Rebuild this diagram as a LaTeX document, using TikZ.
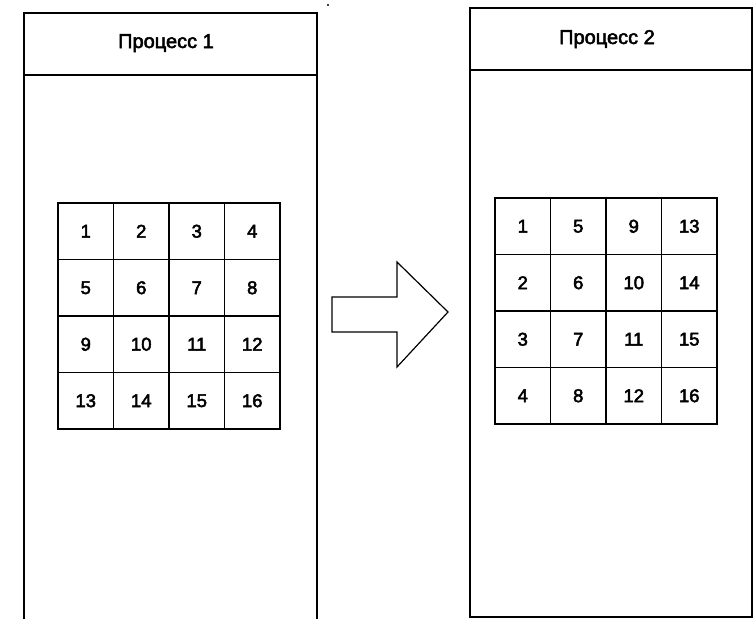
\documentclass[tikz,border=0pt]{standalone}
\usepackage{fontspec}
\setmainfont{Liberation Sans}
% glyphs filled and outlined, for a slightly heavier stroke
\newcommand\heavytext[1]{\special{pdf:literal direct q 2 Tr 0.5 w}#1\special{pdf:literal direct Q}}
\begin{document}
\begin{tikzpicture}[x=1pt,y=-1pt,
  frame/.style={line width=1.3pt,black},
  cell/.style={draw,line width=1.2pt,rectangle,inner sep=0pt,
    minimum width=55.5pt,minimum height=56.5pt,
    font=\fontsize{18.5}{22}\selectfont},
  title/.style={anchor=base,font=\fontsize{20}{24}\selectfont},
  bigarrow/.style={line width=1.2pt,line join=miter}]
\useasboundingbox (0,0) rectangle (754,619);

% first process: open-bottom frame with header
\draw[frame] (24,619) -- (24,13) -- (317,13) -- (317,619);
\draw[frame] (24,75) -- (317,75);
\node[title] (t1) at (166,48) {\heavytext{Процесс 1}};

% second process: closed frame with header
\draw[frame] (470,8) rectangle (752,617);
\draw[frame] (470,70) -- (752,70);
\node[title] (t2) at (607,44) {\heavytext{Процесс 2}};

% stray mark above the first frame
\fill (328,5) circle (1.2);

% row-major matrix in the first process
\foreach \r in {0,...,3}{
  \foreach \c in {0,...,3}{
    \pgfmathtruncatemacro{\n}{4*\r+\c+1}
    \node[cell] (a\n) at ({58+55.5*(\c+0.5)},{203+56.5*(\r+0.5)}) {\heavytext{\n}};
  }
}

% transposed matrix in the second process
\foreach \r in {0,...,3}{
  \foreach \c in {0,...,3}{
    \pgfmathtruncatemacro{\n}{4*\c+\r+1}
    \node[cell] (b\n) at ({495+55.5*(\c+0.5)},{198+56.5*(\r+0.5)}) {\heavytext{\n}};
  }
}

% block arrow between the two processes
\draw[bigarrow] (332,297) -- (397,297) -- (397,262) -- (448,312)
  -- (397,367) -- (397,332) -- (332,332) -- cycle;
\end{tikzpicture}
\end{document}
